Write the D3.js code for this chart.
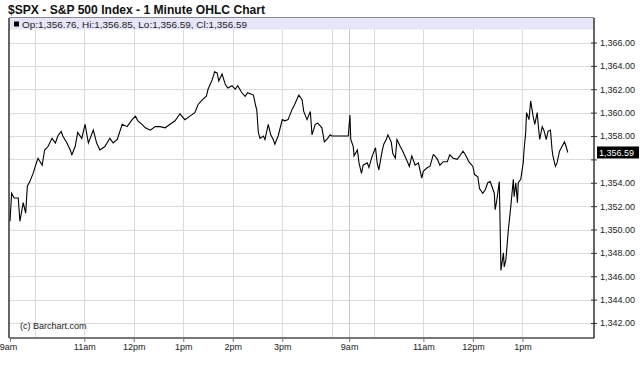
<!DOCTYPE html>
<html>
<head>
<meta charset="utf-8">
<script src="https://cdn.jsdelivr.net/npm/d3@7"></script>
<style>
    body { margin: 0; background: #fff; }
    text { font-family: "Liberation Sans", Arial, sans-serif; }
</style>
</head>
<body>
<div id="chart"></div>
<script>
// Minutes since the open (9:30) and index levels
let day1Minutes = [0, 2, 5, 10, 12, 16, 19, 21, 24, 28, 32, 34, 39, 42, 46, 51, 55, 58, 62, 64,
    69, 73, 75, 79, 82, 87, 91, 95, 101, 105, 109, 115, 121, 125, 130, 136, 142, 148, 152, 155,
    160, 164, 170, 176, 182, 188, 194, 200, 206, 212, 218, 224, 228, 233, 238, 240, 245, 248, 251, 253,
    257, 261, 264, 269, 273, 276, 281, 285, 288, 295, 298, 299, 301, 303, 307, 309, 313, 316, 319, 321,
    325, 330, 333, 337, 342, 345, 350, 354, 356, 360, 364, 366, 370, 373, 378, 381, 384, 388, 390, 410];
let day1Values = [1350.7, 1353.1, 1352.7, 1352.7, 1350.7, 1352.3, 1351.4, 1353.7, 1354.1, 1354.8,
    1355.7, 1356.1, 1355.5, 1356.8, 1357.1, 1357.8, 1357.4, 1358.0, 1358.4, 1358.0,
    1357.4, 1356.8, 1356.4, 1357.1, 1358.3, 1357.8, 1359.0, 1357.4, 1358.5, 1357.4,
    1356.8, 1357.1, 1357.8, 1357.4, 1357.7, 1359.0, 1358.8, 1359.4, 1359.7, 1359.3,
    1359.0, 1358.7, 1358.5, 1358.8, 1358.8, 1358.7, 1359.0, 1359.3, 1359.9, 1359.4,
    1359.7, 1360.0, 1360.7, 1361.1, 1361.4, 1362.0, 1362.8, 1363.5, 1363.4, 1362.7,
    1363.3, 1362.4, 1362.1, 1362.3, 1362.0, 1362.3, 1361.7, 1361.4, 1361.7, 1361.5,
    1360.5, 1360.3, 1358.3, 1357.8, 1358.0, 1357.7, 1359.0, 1358.1, 1357.7, 1357.3,
    1358.0, 1359.4, 1359.3, 1359.4, 1360.3, 1360.7, 1361.5, 1361.1, 1360.1, 1359.4,
    1360.1, 1358.1, 1359.0, 1359.1, 1358.7, 1357.5, 1357.7, 1358.1, 1358.0, 1358.0];

let day2Minutes = [1, 2, 5, 6, 10, 12, 15, 17, 22, 24, 28, 32, 34, 36, 40, 42, 45, 47, 51, 53,
    56, 58, 62, 65, 70, 73, 76, 80, 84, 88, 90, 95, 98, 102, 104, 107, 110, 114, 119, 122,
    126, 131, 135, 138, 141, 145, 150, 152, 156, 158, 162, 165, 168, 171, 173, 176, 177, 179, 182, 183,
    184, 187, 188, 190, 193, 196, 199, 200, 202, 204, 205, 208, 211, 212, 214, 215, 218, 220, 223, 225,
    228, 229, 231, 234, 236, 239, 241, 244, 246, 247, 250, 252, 255, 258, 261, 263, 265];
let day2Values = [1359.8, 1357.7, 1357.1, 1356.3, 1356.8, 1355.7, 1354.8, 1355.5, 1355.7, 1355.3,
    1356.3, 1357.0, 1355.7, 1355.1, 1356.7, 1357.3, 1357.7, 1358.1, 1357.5, 1356.5,
    1356.1, 1357.7, 1357.1, 1356.7, 1355.9, 1355.4, 1356.3, 1355.5, 1355.7, 1354.4,
    1355.0, 1355.3, 1355.4, 1356.4, 1356.3, 1356.0, 1355.5, 1355.8, 1355.8, 1356.4,
    1356.1, 1356.0, 1356.4, 1356.7, 1356.4, 1355.8, 1355.4, 1354.7, 1354.5, 1353.5,
    1353.1, 1353.4, 1354.0, 1354.1, 1353.7, 1353.1, 1351.7, 1352.5, 1354.1, 1350.4,
    1346.5, 1348.0, 1346.8, 1347.4, 1350.0, 1352.0, 1354.3, 1352.8, 1354.0, 1352.3,
    1354.0, 1354.3, 1355.7, 1356.8, 1358.3, 1360.0, 1359.4, 1361.0, 1359.7, 1359.0,
    1360.0, 1359.1, 1357.7, 1358.8, 1358.5, 1357.7, 1358.4, 1358.5, 1356.8, 1356.3,
    1355.4, 1355.7, 1356.7, 1357.1, 1357.5, 1357.1, 1356.59];

// day 2 starts this many minutes along the compressed time axis
let day2Offset = 411;
let axisEnd = 709;

let xTickMinutes = [0, 90, 150, 210, 270, 330, 411, 501, 561, 621];
let xTickLabels = ['9am', '11am', '12pm', '1pm', '2pm', '3pm', '9am', '11am', '12pm', '1pm'];
let xGridMinutes = [30, 90, 150, 210, 270, 330, 390, 411, 441, 501, 561, 621];

let yTicks = [1342, 1344, 1346, 1348, 1350, 1352, 1354, 1356, 1358, 1360, 1362, 1364, 1366];
let lastClose = 1356.59;
let legendText = 'Op:1,356.76, Hi:1,356.85, Lo:1,356.59, Cl:1,356.59';

let svgWidth = 640;
let svgHeight = 375;

// plot frame
let frame = { left: 9, right: 594, top: 18, bottom: 338 };

let svg = d3.select('#chart')
    .append('svg')
    .attr('width', svgWidth)
    .attr('height', svgHeight);

let xScale = d3.scaleLinear()
    .domain([0, axisEnd])
    .range([10, 595]);

let yScale = d3.scaleLinear()
    .domain([1342, 1366])
    .range([323, 42.5]);

// title
svg.append('text')
    .attr('x', 8)
    .attr('y', 13.5)
    .attr('font-size', 12)
    .attr('font-weight', 'bold')
    .attr('textLength', 257)
    .attr('lengthAdjust', 'spacingAndGlyphs')
    .attr('fill', '#111')
    .text('$SPX - S&P 500 Index - 1 Minute OHLC Chart');

// gridlines
let grid = svg.append('g');
grid.selectAll('.hgrid')
    .data(yTicks)
    .enter()
    .append('line')
    .attr('x1', frame.left)
    .attr('x2', frame.right)
    .attr('y1', d => Math.round(yScale(d)) + 0.5)
    .attr('y2', d => Math.round(yScale(d)) + 0.5)
    .attr('stroke', '#dcdcdc');

grid.selectAll('.vgrid')
    .data(xGridMinutes)
    .enter()
    .append('line')
    .attr('x1', d => Math.round(xScale(d)) + 0.5)
    .attr('x2', d => Math.round(xScale(d)) + 0.5)
    .attr('y1', frame.top)
    .attr('y2', frame.bottom)
    .attr('stroke', d => d === day2Offset ? '#c8c8c8' : '#dcdcdc');

// legend strip
svg.append('rect')
    .attr('x', frame.left)
    .attr('y', frame.top)
    .attr('width', frame.right - frame.left)
    .attr('height', 11.5)
    .attr('fill', '#e6e6f8');

svg.append('rect')
    .attr('x', 14)
    .attr('y', 21.5)
    .attr('width', 5)
    .attr('height', 5)
    .attr('fill', '#000');

svg.append('text')
    .attr('x', 22)
    .attr('y', 27.5)
    .attr('font-size', 9)
    .attr('textLength', 225)
    .attr('lengthAdjust', 'spacingAndGlyphs')
    .attr('fill', '#222')
    .text(legendText);

// price line, both sessions joined
let points = day1Minutes.map((m, i) => [m, day1Values[i]])
    .concat(day2Minutes.map((m, i) => [m + day2Offset, day2Values[i]]));

let line = d3.line()
    .x(d => xScale(d[0]))
    .y(d => yScale(d[1]));

svg.append('path')
    .datum(points)
    .attr('d', line)
    .attr('fill', 'none')
    .attr('stroke', '#000')
    .attr('stroke-width', 1.1)
    .attr('stroke-linejoin', 'miter');

// frame lines
svg.append('line')
    .attr('x1', frame.left).attr('x2', frame.right)
    .attr('y1', frame.top - 0.5).attr('y2', frame.top - 0.5)
    .attr('stroke', '#888');
svg.append('line')
    .attr('x1', frame.left).attr('x2', frame.left)
    .attr('y1', frame.top).attr('y2', frame.bottom)
    .attr('stroke', '#333').attr('stroke-width', 1.5);

// bottom axis
let bottomAxis = d3.axisBottom(xScale)
    .tickValues(xTickMinutes)
    .tickFormat((d, i) => xTickLabels[i])
    .tickSize(4)
    .tickSizeOuter(0);

let xAxis = svg.append('g')
    .attr('transform', `translate(0, ${frame.bottom})`)
    .call(bottomAxis);
xAxis.select('.domain')
    .attr('d', `M${frame.left},0H${frame.right}`)
    .attr('stroke', '#777')
    .attr('stroke-width', 2);
xAxis.selectAll('.tick line').attr('stroke', '#777');
xAxis.selectAll('.tick text')
    .attr('font-size', 9)
    .attr('font-family', '"Liberation Sans", Arial, sans-serif')
    .attr('fill', '#222')
    .attr('dy', '0.55em');
xAxis.selectAll('.tick')
    .filter(d => d === 0)
    .select('text')
    .attr('dx', -2);

// right axis
let rightAxis = d3.axisRight(yScale)
    .tickValues(yTicks)
    .tickFormat(d => d3.format(',.2f')(d))
    .tickSize(3)
    .tickSizeOuter(0);

let yAxis = svg.append('g')
    .attr('transform', `translate(${frame.right}, 0)`)
    .call(rightAxis);
yAxis.select('.domain')
    .attr('d', `M0,${frame.top}V${frame.bottom}`)
    .attr('stroke', '#333')
    .attr('stroke-width', 1.5);
yAxis.selectAll('.tick line')
    .attr('x1', -3)
    .attr('stroke', '#333');
yAxis.selectAll('.tick text')
    .attr('x', 6)
    .attr('font-size', 9)
    .attr('font-family', '"Liberation Sans", Arial, sans-serif')
    .attr('fill', '#222');
// 1,356.00 sits under the last price box
yAxis.selectAll('.tick')
    .filter(d => d === 1356)
    .select('text')
    .remove();

// last price box
let lastY = yScale(lastClose);
svg.append('rect')
    .attr('x', frame.right + 3)
    .attr('y', lastY - 6)
    .attr('width', 42)
    .attr('height', 12)
    .attr('fill', '#000');
svg.append('text')
    .attr('x', frame.right + 5)
    .attr('y', lastY + 3.5)
    .attr('font-size', 9)
    .attr('fill', '#fff')
    .text(d3.format(',.2f')(lastClose));

// copyright
svg.append('text')
    .attr('x', 20)
    .attr('y', 329)
    .attr('font-size', 9)
    .attr('fill', '#222')
    .text('(c) Barchart.com');
</script>
</body>
</html>
